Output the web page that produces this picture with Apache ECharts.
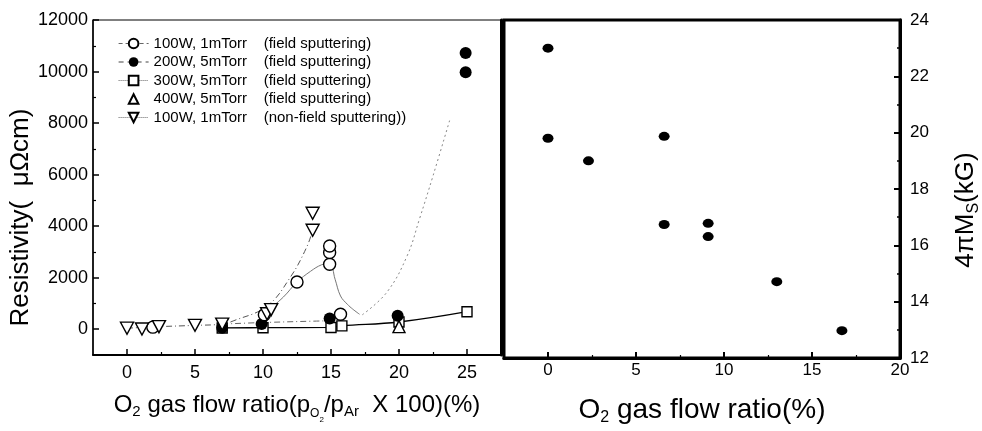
<!DOCTYPE html>
<html>
<head>
<meta charset="utf-8">
<script src="https://cdn.jsdelivr.net/npm/echarts@6/dist/echarts.min.js"></script>
<style>
  html, body { margin: 0; padding: 0; background: #fff; }
  #chart { width: 982px; height: 431px; }
</style>
</head>
<body>
<div id="chart"></div>
<script>
// left panel: resistivity (uOhm cm) vs O2 flow ratio
var res100Field = [[1.9, 80], [10.1, 560], [12.5, 1830], [14.9, 2520], [14.9, 2980], [14.9, 3230], [15.7, 580]];
var res200Field = [[7, 60], [9.9, 200], [14.9, 420], [19.9, 520], [24.9, 9970], [24.9, 10720]];
var res300Field = [[7, 50], [10, 60], [15, 70], [15.8, 130], [20, 280], [25, 680]];
var res400Field = [[20, 100]];
var res100NonField = [[0, 40], [1.1, 10], [2.35, 100], [5, 150], [7, 200], [10.3, 600], [10.6, 760], [13.65, 3840], [13.65, 4500]];

// guide curves as drawn in the picture
var fit100Field = [[10.3, 700], [11.5, 1250], [12.5, 1830], [13.5, 2250], [14.3, 2500], [14.9, 2560], [15.3, 1940], [15.7, 1290], [16.2, 970], [16.6, 780], [17.1, 580]];
var fit200Low = [[7, 200], [10, 260], [15, 330]];
var fit200High = [[17.3, 560], [19.1, 1430], [20.6, 2850], [21.5, 4270], [22.5, 5950], [23.75, 8150]];
var fitNonField = [[0, 40], [2.35, 100], [5, 150], [7, 200], [7.8, 320], [10.3, 900], [12, 2010], [13.2, 3170], [13.65, 3840]];

// right panel: 4piMs (kG) vs O2 flow ratio
var msData = [[0, 23.0], [0, 19.8], [2.3, 19.0], [6.6, 19.87], [6.6, 16.74], [9.1, 16.78], [9.1, 16.31], [13.0, 14.71], [16.7, 12.97]];

var resTicks = [0, 2000, 4000, 6000, 8000, 10000, 12000];
var resMinorTicks = [1000, 3000, 5000, 7000, 9000, 11000];
var ratioTicksLeft = [0, 5, 10, 15, 20, 25];
var ratioMinorLeft = [2.5, 7.5, 12.5, 17.5, 22.5];
var ratioTicksRight = [0, 5, 10, 15, 20];
var ratioMinorRight = [2.5, 7.5, 12.5, 17.5];

var legendNames = [
    '100W, 1mTorr    (field sputtering)',
    '200W, 5mTorr    (field sputtering)',
    '300W, 5mTorr    (field sputtering)',
    '400W, 5mTorr    (field sputtering)',
    '100W, 1mTorr    (non-field sputtering))'
];

var arial = '"Liberation Sans", Arial, sans-serif';
var downTri = 'path://M0,0L10,0L5,9Z';

var chart = echarts.init(document.getElementById('chart'));

function markers(name, data, symbol, size, filled) {
    return {
        name: name,
        type: 'line',
        data: data,
        symbol: symbol,
        symbolSize: size,
        showSymbol: true,
        lineStyle: {width: 0},
        itemStyle: {
            color: filled ? '#000' : '#fff',
            borderColor: '#000',
            borderWidth: filled ? 0 : 1.4
        },
        silent: true,
        animation: false
    }
}

function curve(data, color, type, width) {
    return {
        type: 'line',
        data: data,
        smooth: 0.4,
        symbol: 'none',
        lineStyle: {color: color, type: type, width: width || 1},
        silent: true,
        animation: false
    }
}

function minorAxis(grid, pos, min, max, values, len) {
    return {
        type: 'value', gridIndex: grid, position: pos, min: min, max: max,
        axisLine: {show: false, onZero: false},
        axisTick: {show: true, inside: true, length: len, customValues: values, lineStyle: {color: '#000', width: 1.2}},
        axisLabel: {show: false},
        splitLine: {show: false}
    }
}

function plain(v) { return String(v) }

var option = {
    backgroundColor: '#fff',
    animation: false,
    grid: [
        {left: 93, right: 481, top: 20, bottom: 76, show: true, borderColor: '#000', borderWidth: 1, outerBoundsMode: 'none'},
        {left: 504, right: 82, top: 20, bottom: 73, show: true, borderColor: '#000', borderWidth: 3, outerBoundsMode: 'none'}
    ],
    legend: {
        orient: 'vertical',
        left: 118,
        top: 36,
        padding: 0,
        itemWidth: 30,
        itemHeight: 12,
        itemGap: 3.5,
        textStyle: {fontFamily: arial, fontSize: 15, color: '#000'},
        data: [
            {name: legendNames[0], lineStyle: {width: 1, type: [4, 3], color: '#666'}},
            {name: legendNames[1], lineStyle: {width: 1.2, type: [5, 4], color: '#444'}},
            {name: legendNames[2], lineStyle: {width: 1, type: 'dotted', color: '#666'}},
            {name: legendNames[3]},
            {name: legendNames[4], lineStyle: {width: 1, type: 'dotted', color: '#666'}}
        ]
    },
    xAxis: [
        {
            type: 'value', gridIndex: 0, position: 'bottom', min: -2.5, max: 27.5,
            axisLine: {onZero: false, lineStyle: {color: '#000', width: 2}},
            axisTick: {inside: true, length: 6, customValues: ratioTicksLeft, lineStyle: {color: '#000', width: 1.5}},
            axisLabel: {customValues: ratioTicksLeft, formatter: plain, color: '#000', fontFamily: arial, fontSize: 18, margin: 9},
            splitLine: {show: false},
            name: '{m|O}{s|2}{m| gas flow ratio(p}{ss|O}{sss|2}{m|/p}{s|Ar}{m|  X 100)(%)}',
            nameLocation: 'middle',
            nameGap: 31,
            nameTextStyle: {
                rich: {
                    m: {fontFamily: arial, fontSize: 24, color: '#000'},
                    s: {fontFamily: arial, fontSize: 15, color: '#000', padding: [14, 0, 0, 0]},
                    ss: {fontFamily: arial, fontSize: 12, color: '#000', padding: [18, 0, 0, 0]},
                    sss: {fontFamily: arial, fontSize: 8, color: '#000', padding: [30, 0, 0, 0]}
                }
            }
        },
        minorAxis(0, 'bottom', -2.5, 27.5, ratioMinorLeft, 3),
        {
            type: 'value', gridIndex: 1, position: 'bottom', min: -2.5, max: 20,
            axisLine: {onZero: false, lineStyle: {color: '#000', width: 3}},
            axisTick: {inside: true, length: 6, customValues: ratioTicksRight, lineStyle: {color: '#000', width: 2}},
            axisLabel: {customValues: ratioTicksRight, formatter: plain, color: '#000', fontFamily: arial, fontSize: 17, margin: 4},
            splitLine: {show: false},
            name: '{m|O}{s|2}{m| gas flow ratio(%)}',
            nameLocation: 'middle',
            nameGap: 36,
            nameTextStyle: {
                rich: {
                    m: {fontFamily: arial, fontSize: 28, color: '#000'},
                    s: {fontFamily: arial, fontSize: 16, color: '#000', padding: [16, 0, 0, 0]}
                }
            }
        },
        minorAxis(1, 'bottom', -2.5, 20, ratioMinorRight, 3)
    ],
    yAxis: [
        {
            type: 'value', gridIndex: 0, position: 'left', min: -1000, max: 12000,
            axisLine: {onZero: false, lineStyle: {color: '#000', width: 1.5}},
            axisTick: {inside: true, length: 6, customValues: resTicks, lineStyle: {color: '#000', width: 1.5}},
            axisLabel: {customValues: resTicks, formatter: plain, color: '#000', fontFamily: arial, fontSize: 18, margin: 5},
            splitLine: {show: false},
            name: 'Resistivity(  \u03bc\u03a9cm)',
            nameLocation: 'middle',
            nameGap: 50,
            nameTextStyle: {fontFamily: arial, fontSize: 26, color: '#000', padding: [0, 60, 0, 0]}
        },
        minorAxis(0, 'left', -1000, 12000, resMinorTicks, 3),
        {
            type: 'value', gridIndex: 0, position: 'right', min: -1000, max: 12000,
            axisLine: {onZero: false, lineStyle: {color: '#000', width: 3}},
            axisTick: {show: false}, axisLabel: {show: false}, splitLine: {show: false}
        },
        {
            type: 'value', gridIndex: 1, position: 'right', min: 12, max: 24, interval: 2,
            axisLine: {onZero: false, lineStyle: {color: '#000', width: 3}},
            axisTick: {inside: true, length: 6, lineStyle: {color: '#000', width: 2}},
            minorTick: {show: true, splitNumber: 2, length: 3, lineStyle: {color: '#000', width: 1.5}},
            axisLabel: {color: '#000', fontFamily: arial, fontSize: 17, margin: 10},
            splitLine: {show: false},
            name: '{m|4\u03c0M}{s|S}{m|(kG)}',
            nameLocation: 'middle',
            nameGap: 50,
            nameTextStyle: {
                padding: [0, 42, 0, 0],
                rich: {
                    m: {fontFamily: arial, fontSize: 26, color: '#000'},
                    s: {fontFamily: arial, fontSize: 16, color: '#000', padding: [16, 0, 0, 0]}
                }
            }
        }
    ],
    series: [
        curve(fit100Field, '#777', 'solid', 1),
        curve(fit200Low, '#666', [6, 3, 1, 3], 1),
        curve(fit200High, '#888', [2, 3], 1),
        curve(fitNonField, '#555', [6, 3, 1, 3], 1),
        curve(res300Field, '#000', 'solid', 1.3),
        markers(legendNames[2], res300Field, 'rect', 10, false),
        markers(legendNames[1], res200Field, 'circle', 12, true),
        markers(legendNames[0], res100Field, 'circle', 12, false),
        markers(legendNames[3], res400Field, 'triangle', 12, false),
        markers(legendNames[4], res100NonField, downTri, [13, 12], false),
        Object.assign(markers('ms', msData, 'circle', [11, 9], true), {xAxisIndex: 2, yAxisIndex: 3})
    ]
};

chart.setOption(option);
</script>
</body>
</html>
